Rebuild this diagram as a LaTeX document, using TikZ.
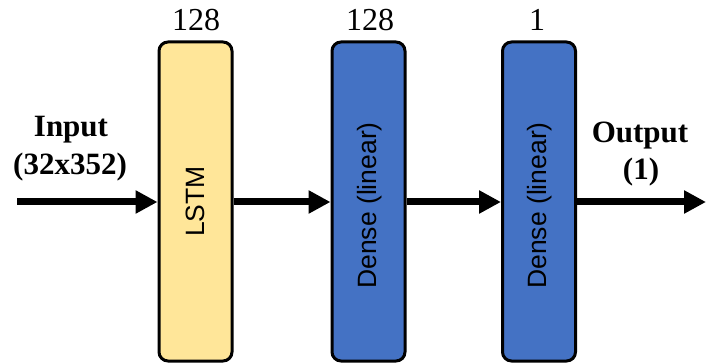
\documentclass[tikz,border=0pt]{standalone}
\usepackage{fontspec}
\setmainfont{Liberation Serif}
\newfontfamily\layerfont{Liberation Sans}
\usetikzlibrary{arrows.meta}
\definecolor{lstmfill}{HTML}{FFE699}
\definecolor{densefill}{HTML}{4472C4}
\begin{document}
\begin{tikzpicture}[x=1pt,y=-1pt,
  layer/.style={draw=black, line width=3pt, rounded corners=9pt,
    minimum width=73pt, minimum height=319pt, inner sep=0pt},
  layertext/.style={font=\layerfont\fontsize{26.5}{28}\selectfont, rotate=90, inner sep=0pt},
  flow/.style={line width=7pt, -{Triangle[length=22pt,width=22pt]}},
  unitcount/.style={font=\fontsize{32}{34}\selectfont, anchor=base, inner sep=0pt},
  iolabel/.style={font=\bfseries\fontsize{31}{33}\selectfont, anchor=base, inner sep=0pt}]
  \useasboundingbox (0,0) rectangle (706,363);

  % layers
  \node[layer, fill=lstmfill]  (lstm)   at (195.5,201.5) {};
  \node[layer, fill=densefill] (dense1) at (368.5,201.5) {};
  \node[layer, fill=densefill] (dense2) at (539,201.5) {};

  \node[layertext] (lstmtxt)   at (lstm.center)    {LSTM};
  \node[layertext] (dense1txt) at ([xshift=1pt,yshift=-4pt]dense1.center) {Dense (linear)};
  \node[layertext] (dense2txt) at ([xshift=1pt,yshift=-4pt]dense2.center) {Dense (linear)};

  % unit counts
  \node[unitcount] (n1) at (196,31) {128};
  \node[unitcount] (n2) at (370,31) {128};
  \node[unitcount] (n3) at (537,31) {1};

  % input / output labels
  \node[iolabel] (inlab)   at (71,137)  {Input};
  \node[iolabel] (inshape) at (70,175)  {(32x352)};
  \node[iolabel] (outlab)  at (640,143) {Output};
  \node[iolabel] (outshape) at (641,180) {(1)};

  % connectors
  \coordinate (src) at (17,202);
  \coordinate (sink) at (706,202);
  \draw[flow] (src) -- (src -| lstm.west);
  \draw[flow] (lstm.east |- src) -- (dense1.west |- src);
  \draw[flow] (dense1.east |- src) -- (dense2.west |- src);
  \draw[flow] (dense2.east |- src) -- (sink);
\end{tikzpicture}
\end{document}
